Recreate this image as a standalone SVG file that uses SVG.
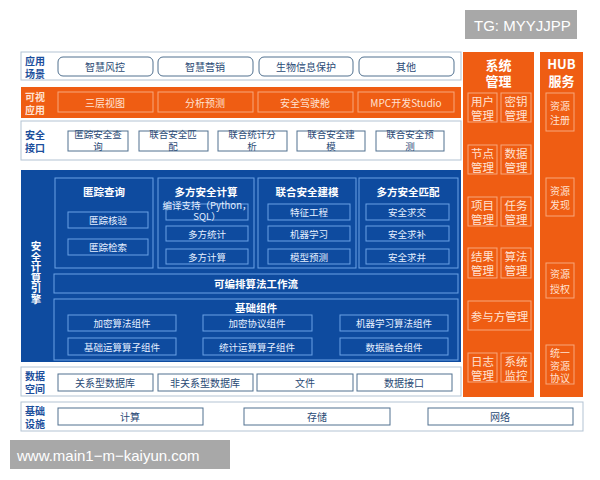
<svg xmlns="http://www.w3.org/2000/svg" width="600" height="480" viewBox="0 0 600 480">
<style>
text{font-family:"Noto Sans CJK SC","Noto Sans",sans-serif;text-anchor:middle;dominant-baseline:central}
.outer{fill:#fff;stroke:#b3c3d3;stroke-width:1}
.wbox{fill:#fff;stroke:#50708f;stroke-width:1}
.wt{fill:#2a4a75;font-size:10px}
.wt2{fill:#2a4a75;font-size:9.5px}
.lbl{fill:#1c4f9c;font-size:10px;font-weight:bold;text-anchor:start}
.org{fill:#ef5d13}
.obox{fill:none;stroke:#f8a77c;stroke-width:1}
.ot{fill:#ffe2d2;font-size:10px}
.ot2{fill:#ffe2d2;font-size:11.5px}
.otb{fill:#ffffff;font-size:13px;font-weight:bold}
.bbox{fill:none;stroke:#6aa2e6;stroke-width:1}
.bt{fill:#e6f0ff;font-size:9.5px}
.btb{fill:#ffffff;font-size:10.5px;font-weight:bold}
.wm{fill:#a8a8a8}
.wmt{fill:#fff;font-family:"Liberation Sans",Arial,sans-serif;text-anchor:start}
</style>

<g id="watermark-top">
<rect class="wm" x="465" y="10" width="112" height="29"/>
<text class="wmt" x="474" y="25" font-size="15">TG: MYYJJPP</text>
</g>

<g id="row-app">
<rect class="outer" x="21" y="52" width="440" height="28"/>
<text class="lbl" x="25" y="60">应用<tspan x="25" dy="13">场景</tspan></text>
<rect class="wbox" x="58" y="57" width="95" height="19" rx="5"/>
<text class="wt" x="105" y="66.5">智慧风控</text>
<rect class="wbox" x="158" y="57" width="95" height="19" rx="5"/>
<text class="wt" x="205" y="66.5">智慧营销</text>
<rect class="wbox" x="259" y="57" width="94" height="19" rx="5"/>
<text class="wt" x="306" y="66.5">生物信息保护</text>
<rect class="wbox" x="359" y="57" width="95" height="19" rx="5"/>
<text class="wt" x="406" y="66.5">其他</text>
</g>

<g id="row-visual">
<rect class="org" x="21" y="87" width="440" height="31"/>
<text class="lbl" x="25" y="96" style="fill:#ffe2d2">可视<tspan x="25" dy="13">应用</tspan></text>
<rect class="obox" x="58" y="92" width="95" height="20"/>
<text class="ot" x="105" y="102">三层视图</text>
<rect class="obox" x="158" y="92" width="95" height="20"/>
<text class="ot" x="205" y="102">分析预测</text>
<rect class="obox" x="258" y="92" width="95" height="20"/>
<text class="ot" x="305" y="102">安全驾驶舱</text>
<rect class="obox" x="358" y="92" width="96" height="20"/>
<text class="ot" x="406" y="102">MPC开发Studio</text>
</g>

<g id="row-interface">
<rect class="outer" x="21" y="121" width="440" height="39"/>
<text class="lbl" x="25" y="134">安全<tspan x="25" dy="13">接口</tspan></text>
<rect class="wbox" x="68" y="131" width="60" height="20"/>
<text class="wt2" x="98" y="134">匿踪安全查<tspan x="98" dy="12">询</tspan></text>
<rect class="wbox" x="139" y="131" width="69" height="20"/>
<text class="wt2" x="173" y="134">联合安全匹<tspan x="173" dy="12">配</tspan></text>
<rect class="wbox" x="218" y="131" width="69" height="20"/>
<text class="wt2" x="252" y="134">联合统计分<tspan x="252" dy="12">析</tspan></text>
<rect class="wbox" x="297" y="131" width="68" height="20"/>
<text class="wt2" x="331" y="134">联合安全建<tspan x="331" dy="12">模</tspan></text>
<rect class="wbox" x="376" y="131" width="68" height="20"/>
<text class="wt2" x="410" y="134">联合安全预<tspan x="410" dy="12">测</tspan></text>
</g>

<g id="engine">
<rect x="21" y="170" width="440" height="192" fill="#0e4b9f"/>
<text x="36" y="241" fill="#ffffff" font-size="10.5" font-weight="bold" style="writing-mode:vertical-rl;text-anchor:start;dominant-baseline:auto">安全计算引擎</text>
</g>

<g id="col-anon">
<rect class="bbox" x="55" y="178" width="98" height="90"/>
<text class="btb" x="104" y="191">匿踪查询</text>
<rect class="bbox" x="68" y="212" width="80" height="16"/>
<text class="bt" x="108" y="220">匿踪核验</text>
<rect class="bbox" x="68" y="239" width="80" height="16"/>
<text class="bt" x="108" y="247">匿踪检索</text>
</g>

<g id="col-mpc">
<rect class="bbox" x="158" y="178" width="96" height="90"/>
<text class="btb" x="206" y="191">多方安全计算</text>
<rect class="bbox" x="166" y="204" width="82" height="16"/>
<text class="bt" x="207" y="205" font-size="9">编译支持（Python，<tspan x="207" dy="11">SQL）</tspan></text>
<rect class="bbox" x="166" y="226" width="82" height="15"/>
<text class="bt" x="207" y="233.5">多方统计</text>
<rect class="bbox" x="166" y="249" width="82" height="15"/>
<text class="bt" x="207" y="256.5">多方计算</text>
</g>

<g id="col-model">
<rect class="bbox" x="258" y="178" width="98" height="90"/>
<text class="btb" x="307" y="191">联合安全建模</text>
<rect class="bbox" x="268" y="204" width="82" height="16"/>
<text class="bt" x="309" y="212">特征工程</text>
<rect class="bbox" x="268" y="226" width="82" height="15"/>
<text class="bt" x="309" y="233.5">机器学习</text>
<rect class="bbox" x="268" y="249" width="82" height="15"/>
<text class="bt" x="309" y="256.5">模型预测</text>
</g>

<g id="col-match">
<rect class="bbox" x="359" y="178" width="99" height="90"/>
<text class="btb" x="408" y="191">多方安全匹配</text>
<rect class="bbox" x="366" y="204" width="83" height="16"/>
<text class="bt" x="407" y="212">安全求交</text>
<rect class="bbox" x="366" y="226" width="83" height="15"/>
<text class="bt" x="407" y="233.5">安全求补</text>
<rect class="bbox" x="366" y="249" width="83" height="15"/>
<text class="bt" x="407" y="256.5">安全求并</text>
</g>

<g id="workflow">
<rect class="bbox" x="54" y="274" width="404" height="19"/>
<text class="btb" x="256" y="283.5">可编排算法工作流</text>
</g>

<g id="base-components">
<rect class="bbox" x="54" y="299" width="404" height="61"/>
<text class="btb" x="256" y="307">基础组件</text>
<rect class="bbox" x="68" y="315" width="108" height="16"/>
<text class="bt" x="122" y="323">加密算法组件</text>
<rect class="bbox" x="203" y="315" width="109" height="16"/>
<text class="bt" x="257" y="323">加密协议组件</text>
<rect class="bbox" x="340" y="315" width="108" height="16"/>
<text class="bt" x="394" y="323">机器学习算法组件</text>
<rect class="bbox" x="68" y="338" width="108" height="17"/>
<text class="bt" x="122" y="346.5">基础运算算子组件</text>
<rect class="bbox" x="203" y="338" width="109" height="17"/>
<text class="bt" x="257" y="346.5">统计运算算子组件</text>
<rect class="bbox" x="340" y="338" width="108" height="17"/>
<text class="bt" x="394" y="346.5">数据融合组件</text>
</g>

<g id="row-data">
<rect class="outer" x="21" y="367" width="440" height="29"/>
<text class="lbl" x="25" y="375">数据<tspan x="25" dy="13">空间</tspan></text>
<rect class="wbox" x="58" y="374" width="95" height="17"/>
<text class="wt" x="105" y="382.5">关系型数据库</text>
<rect class="wbox" x="158" y="374" width="95" height="17"/>
<text class="wt" x="205" y="382.5">非关系型数据库</text>
<rect class="wbox" x="257" y="374" width="96" height="17"/>
<text class="wt" x="305" y="382.5">文件</text>
<rect class="wbox" x="357" y="374" width="95" height="17"/>
<text class="wt" x="404" y="382.5">数据接口</text>
</g>

<g id="row-infra">
<rect class="outer" x="21" y="402" width="562" height="29"/>
<text class="lbl" x="25" y="410">基础<tspan x="25" dy="13">设施</tspan></text>
<rect class="wbox" x="58" y="408" width="145" height="17"/>
<text class="wt" x="130" y="416.5">计算</text>
<rect class="wbox" x="244" y="408" width="146" height="17"/>
<text class="wt" x="317" y="416.5">存储</text>
<rect class="wbox" x="428" y="408" width="145" height="17"/>
<text class="wt" x="500" y="416.5">网络</text>
</g>

<g id="sys-mgmt">
<rect class="org" x="463" y="52" width="71" height="345"/>
<text class="otb" x="498.5" y="64">系统<tspan x="498.5" dy="16">管理</tspan></text>
<rect class="obox" x="468" y="93" width="29" height="29"/>
<text class="ot2" x="482.5" y="100.5">用户<tspan x="482.5" dy="14">管理</tspan></text>
<rect class="obox" x="501" y="93" width="30" height="29"/>
<text class="ot2" x="516" y="100.5">密钥<tspan x="516" dy="14">管理</tspan></text>
<rect class="obox" x="468" y="145" width="29" height="29"/>
<text class="ot2" x="482.5" y="152.5">节点<tspan x="482.5" dy="14">管理</tspan></text>
<rect class="obox" x="501" y="145" width="30" height="29"/>
<text class="ot2" x="516" y="152.5">数据<tspan x="516" dy="14">管理</tspan></text>
<rect class="obox" x="468" y="197" width="29" height="29"/>
<text class="ot2" x="482.5" y="204.5">项目<tspan x="482.5" dy="14">管理</tspan></text>
<rect class="obox" x="501" y="197" width="30" height="29"/>
<text class="ot2" x="516" y="204.5">任务<tspan x="516" dy="14">管理</tspan></text>
<rect class="obox" x="468" y="248" width="29" height="30"/>
<text class="ot2" x="482.5" y="256">结果<tspan x="482.5" dy="14">管理</tspan></text>
<rect class="obox" x="501" y="248" width="30" height="30"/>
<text class="ot2" x="516" y="256">算法<tspan x="516" dy="14">管理</tspan></text>
<rect class="obox" x="468" y="301" width="63" height="29"/>
<text class="ot2" x="499.5" y="315.5">参与方管理</text>
<rect class="obox" x="468" y="353" width="29" height="29"/>
<text class="ot2" x="482.5" y="360.5">日志<tspan x="482.5" dy="14">管理</tspan></text>
<rect class="obox" x="501" y="353" width="30" height="29"/>
<text class="ot2" x="516" y="360.5">系统<tspan x="516" dy="14">监控</tspan></text>
</g>

<g id="hub">
<rect class="org" x="540" y="52" width="43" height="345"/>
<text class="otb" x="561.5" y="63">HUB<tspan x="561.5" dy="17">服务</tspan></text>
<rect class="obox" x="546" y="93" width="28" height="38"/>
<text class="ot" x="560" y="105">资源<tspan x="560" dy="14">注册</tspan></text>
<rect class="obox" x="546" y="178" width="28" height="38"/>
<text class="ot" x="560" y="190">资源<tspan x="560" dy="14">发现</tspan></text>
<rect class="obox" x="546" y="263" width="28" height="35"/>
<text class="ot" x="560" y="273.5">资源<tspan x="560" dy="14">授权</tspan></text>
<rect class="obox" x="546" y="345" width="28" height="39"/>
<text class="ot" x="560" y="352">统一<tspan x="560" dy="12.5">资源</tspan><tspan x="560" dy="12.5">协议</tspan></text>
</g>

<g id="watermark-bottom">
<rect class="wm" x="10" y="440" width="220" height="29"/>
<text class="wmt" x="17" y="455" font-size="15">www.main1−m−kaiyun.com</text>
</g>
</svg>
